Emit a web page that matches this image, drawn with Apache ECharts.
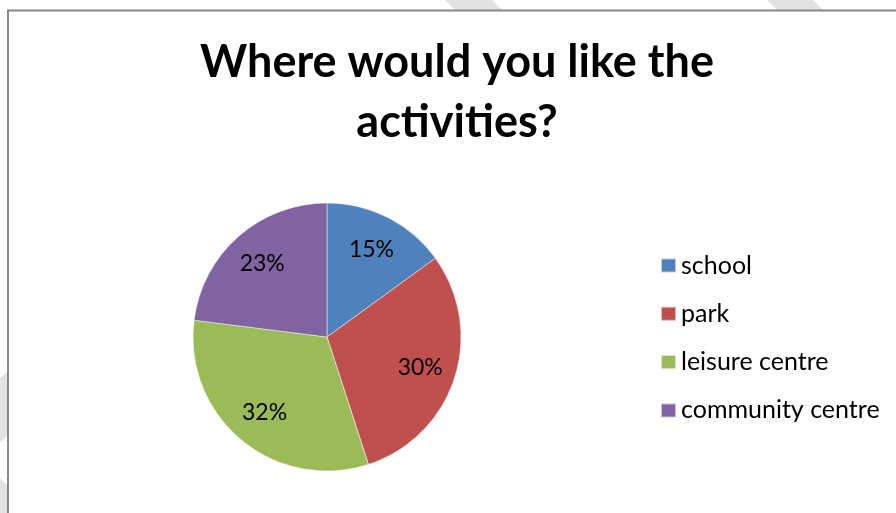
<!DOCTYPE html>
<html>
<head>
<meta charset="utf-8">
<script src="https://cdn.jsdelivr.net/npm/echarts@6/dist/echarts.min.js"></script>
<style>
  html, body { margin: 0; padding: 0; background: #ffffff; }
  #chart { width: 896px; height: 513px; }
</style>
</head>
<body>
<div id="chart"></div>
<script>
// Survey answers: preferred venue for the activities (percent of responses)
const categories = ['school', 'park', 'leisure centre', 'community centre'];
const shares = [15, 30, 32, 23];
const sliceColors = ['#4F81BD', '#C0504D', '#9BBB59', '#8064A2'];
const titleText = 'Where would you like the\nactivities?';

const FONT = 'Lato, "Open Sans", "Liberation Sans", sans-serif';

const pieData = categories.map((name, i) => ({
  name: name,
  value: shares[i],
  itemStyle: { color: sliceColors[i] }
}));

const chart = echarts.init(document.getElementById('chart'), null, { renderer: 'canvas' });

chart.setOption({
  animation: false,
  backgroundColor: '#ffffff',
  title: {
    text: titleText,
    left: 457,
    top: 32,
    padding: 0,
    textAlign: 'center',
    textStyle: {
      fontFamily: FONT,
      fontWeight: 'bold',
      fontSize: 45,
      lineHeight: 60,
      color: '#000000'
    }
  },
  legend: {
    orient: 'vertical',
    left: 660,
    top: 253,
    padding: 0,
    itemWidth: 15,
    itemHeight: 14,
    itemGap: 23.3,
    itemTextGap: 6,
    icon: 'rect',
    data: categories,
    textStyle: {
      fontFamily: FONT,
      fontSize: 25,
      lineHeight: 24,
      color: '#000000'
    }
  },
  graphic: [
    // faint sheet marks outside the chart frame
    { type: 'polygon', silent: true, z: -1,
      shape: { points: [[445, 0], [492, 0], [502, 10], [455, 10]] },
      style: { fill: '#e2e2e2' } },
    { type: 'polygon', silent: true, z: -1,
      shape: { points: [[767, 0], [813, 0], [823, 10], [777, 10]] },
      style: { fill: '#e2e2e2' } },
    { type: 'polygon', silent: true, z: -1,
      shape: { points: [[0, 378], [7, 372], [7, 436], [0, 443]] },
      style: { fill: '#e2e2e2' } },
    { type: 'polygon', silent: true, z: -1,
      shape: { points: [[0, 478], [7, 485], [7, 513], [0, 513]] },
      style: { fill: '#e2e2e2' } },
    // chart frame
    { type: 'rect', silent: true, z: 10,
      shape: { x: 8, y: 10.5, width: 1000, height: 600 },
      style: { fill: 'none', stroke: '#878787', lineWidth: 2 } }
  ],
  series: [
    {
      type: 'pie',
      center: [327, 337],
      radius: [0, 134],
      startAngle: 90,
      clockwise: true,
      silent: true,
      label: { show: false },
      labelLine: { show: false },
      itemStyle: { borderColor: 'rgba(255,255,255,0.6)', borderWidth: 0.8 },
      data: pieData
    },
    {
      // transparent ring carrying the percentage labels at ~0.7 of the radius
      type: 'pie',
      center: [327, 337],
      radius: [56, 134],
      startAngle: 90,
      clockwise: true,
      silent: true,
      legendHoverLink: false,
      itemStyle: { color: 'rgba(0,0,0,0)', borderWidth: 0 },
      label: {
        show: true,
        position: 'inside',
        formatter: p => p.value + '%',
        fontFamily: FONT,
        fontSize: 23,
        color: '#000000'
      },
      labelLine: { show: false },
      data: categories.map((name, i) => ({ name: name, value: shares[i] }))
    }
  ]
});
</script>
</body>
</html>
